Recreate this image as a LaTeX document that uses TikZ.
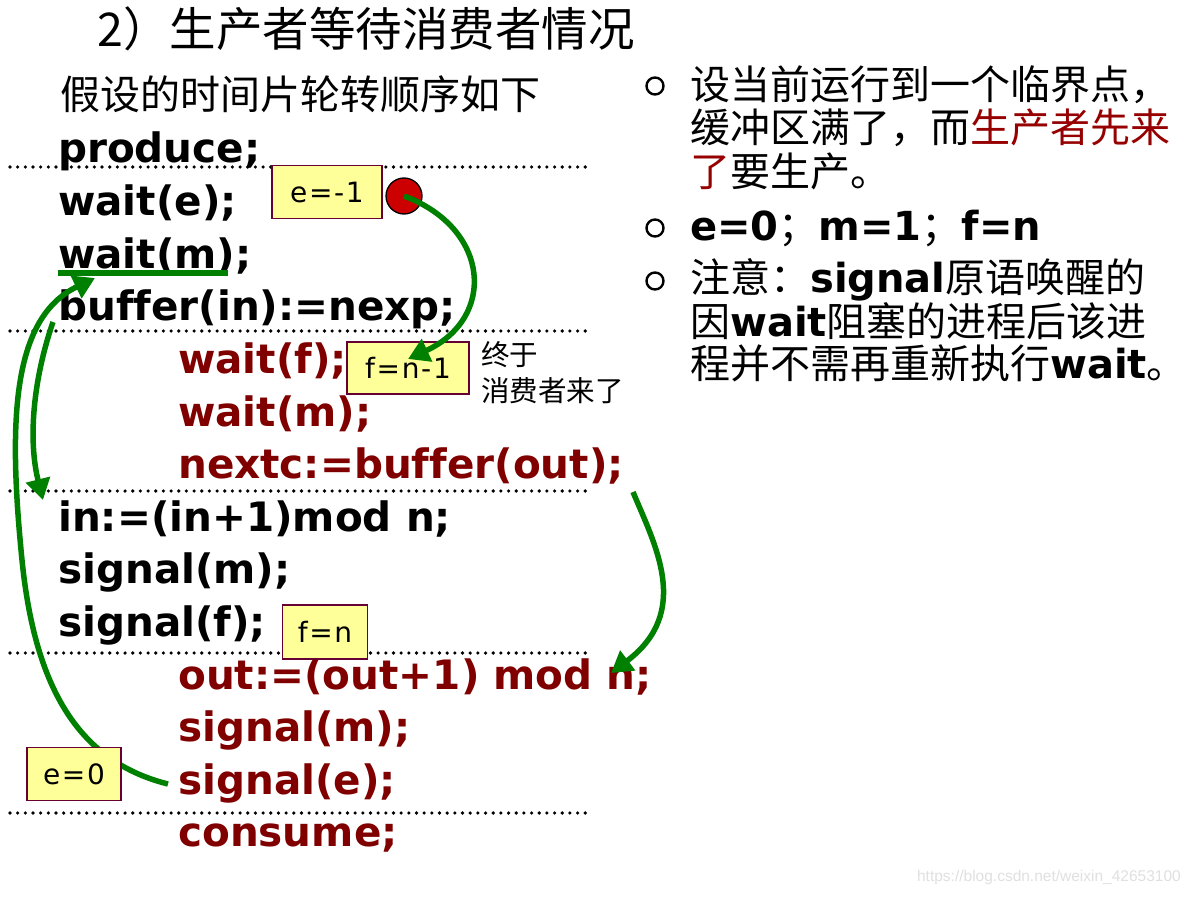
\documentclass[tikz,border=0pt]{standalone}
\usepackage{fontspec}
\setmainfont[Ligatures=NoCommon]{DejaVu Sans}
\newfontfamily\cjk{Noto Sans CJK SC}
\newfontfamily\boxfont[LetterSpace=6]{DejaVu Sans}
\newfontfamily\wmfont{Liberation Sans}
\usetikzlibrary{arrows.meta}
\definecolor{codered}{RGB}{128,0,0}
\definecolor{notered}{RGB}{150,0,0}
\definecolor{arrgreen}{RGB}{0,128,0}
\definecolor{boxfill}{RGB}{255,255,153}
\definecolor{boxline}{RGB}{102,0,51}
\definecolor{dotred}{RGB}{204,0,0}
\newcommand\zh[1]{{\cjk #1}}
\tikzset{
  code/.style={anchor=base west, inner sep=0pt, font=\fontsize{40.5}{40}\selectfont\bfseries},
  redcode/.style={code, text=codered},
  note/.style={anchor=base west, inner sep=0pt, font=\fontsize{40}{40}\selectfont},
  dotline/.style={line width=3.6pt, dash pattern=on 0pt off 7.67pt, line cap=round},
  valbox/.style={draw=boxline, line width=1.3pt, fill=boxfill, inner sep=0pt, font=\boxfont\fontsize{28}{28}\selectfont},
  garrow/.style={draw=arrgreen, line width=5.5pt, -{Triangle[width=24pt,length=21pt]}},
  gline/.style={draw=arrgreen, line width=6pt},
  bullet/.style={circle, draw, line width=2.4pt, minimum size=17pt, inner sep=0pt}
}
\begin{document}
\begin{tikzpicture}[x=1pt,y=-1pt]
\fill[white] (0,0) rectangle (1190,896);
\useasboundingbox (0,0) rectangle (1190,896);

% title
\node[anchor=base west, inner sep=0pt, font=\cjk\fontsize{46.5}{46}\selectfont] (title) at (97,47) {2）生产者等待消费者情况};
\node[anchor=base west, inner sep=0pt, font=\cjk\fontsize{40}{40}\selectfont] (sub) at (60,110) {假设的时间片轮转顺序如下};

% dotted separators
\foreach \yy in {167,331,491,653,813} \draw[dotline] (10,\yy) -- (592,\yy);

% code lines
\node[code] (c0) at (58,163) {produce;};
\node[code] (c1) at (58,215.6) {wait(e);};
\node[code] (c2) at (58,268.2) {wait(m);};
\node[code] (c3) at (58,320.8) {buffer(in):=nexp;};
\node[redcode] (c4) at (178,373.4) {wait(f);};
\node[redcode] (c5) at (178,426) {wait(m);};
\node[redcode] (c6) at (178,478.6) {nextc:=buffer(out);};
\node[code] (c7) at (58,531.2) {in:=(in+1)mod n;};
\node[code] (c8) at (58,583.8) {signal(m);};
\node[code] (c9) at (58,636.4) {signal(f);};
\node[redcode] (c10) at (178,689) {out:=(out+1) mod n;};
\node[redcode] (c11) at (178,741.6) {signal(m);};
\node[redcode] (c12) at (178,794.2) {signal(e);};
\node[redcode] (c13) at (178,846.8) {consume;};

% side note
\node[anchor=base west, inner sep=0pt, font=\cjk\fontsize{28.5}{28}\selectfont] (n1) at (481,365) {终于};
\node[anchor=base west, inner sep=0pt, font=\cjk\fontsize{28.5}{28}\selectfont] (n2) at (481,401) {消费者来了};

% value boxes and marker
\node[valbox, minimum width=110pt, minimum height=53pt] (em1) at (327,192) {e=-1};
\node[circle, draw=black, line width=1.3pt, fill=dotred, minimum size=36pt, inner sep=0pt] (dot) at (404,196) {};
\node[valbox, minimum width=122pt, minimum height=52pt] (fn1) at (408,368) {f=n-1};
\node[valbox, minimum width=85pt, minimum height=54pt] (fn) at (325,632) {f=n};

% underline of wait(m)
\coordinate (ul1) at (58,273);
\coordinate (ul2) at (228,273);
\draw[gline] (ul1) -- (ul2);

% arrows
\coordinate (a1t) at (408,359);
\draw[garrow] (dot.center) .. controls (490,228) and (497,318) .. (a1t);

\coordinate (a3s) at (168,784);
\coordinate (a3m) at (22,560);
\coordinate (a3t) at (95,278);
\draw[garrow] (a3s) .. controls (80,762) and (35,690) .. (a3m) .. controls (8,420) and (12,318) .. (a3t);

\coordinate (a4s) at (53,322);
\coordinate (a4t) at (43,500);
\draw[garrow] (a4s) .. controls (33,380) and (28,440) .. (a4t);

\coordinate (a5s) at (633,492);
\coordinate (a5t) at (611,673);
\draw[garrow] (a5s) .. controls (655,545) and (692,612) .. (a5t);

\node[valbox, minimum width=94pt, minimum height=53pt] (e0) at (74,774) {e=0};

% right column
\node[bullet] (b1) at (655,86) {};
\node[bullet] (b2) at (655,228) {};
\node[bullet] (b3) at (655,281) {};
\node[note] (r1) at (690,100) {\zh{设当前运行到一个临界点，}};
\node[note] (r2) at (690,143) {\zh{缓冲区满了，而}\zh{\color{notered}生产者先来}};
\node[note] (r3) at (690,186) {\zh{\color{notered}了}\zh{要生产。}};
\node[note] (r4) at (690,240) {{\bfseries e=0}\zh{；}{\bfseries m=1}\zh{；}{\bfseries f=n}};
\node[note] (r5) at (690,292) {\zh{注意：}{\bfseries signal}\zh{原语唤醒的}};
\node[note] (r6) at (690,336) {\zh{因}{\bfseries wait}\zh{阻塞的进程后该进}};
\node[note] (r7) at (690,378) {\zh{程并不需再重新执行}{\bfseries wait}\zh{。}};

% watermark
\node[anchor=east, inner sep=0pt, text=black!12, font=\wmfont\fontsize{15.5}{16}\selectfont] (wm) at (1181,877) {https://blog.csdn.net/weixin\_42653100};
\end{tikzpicture}
\end{document}
